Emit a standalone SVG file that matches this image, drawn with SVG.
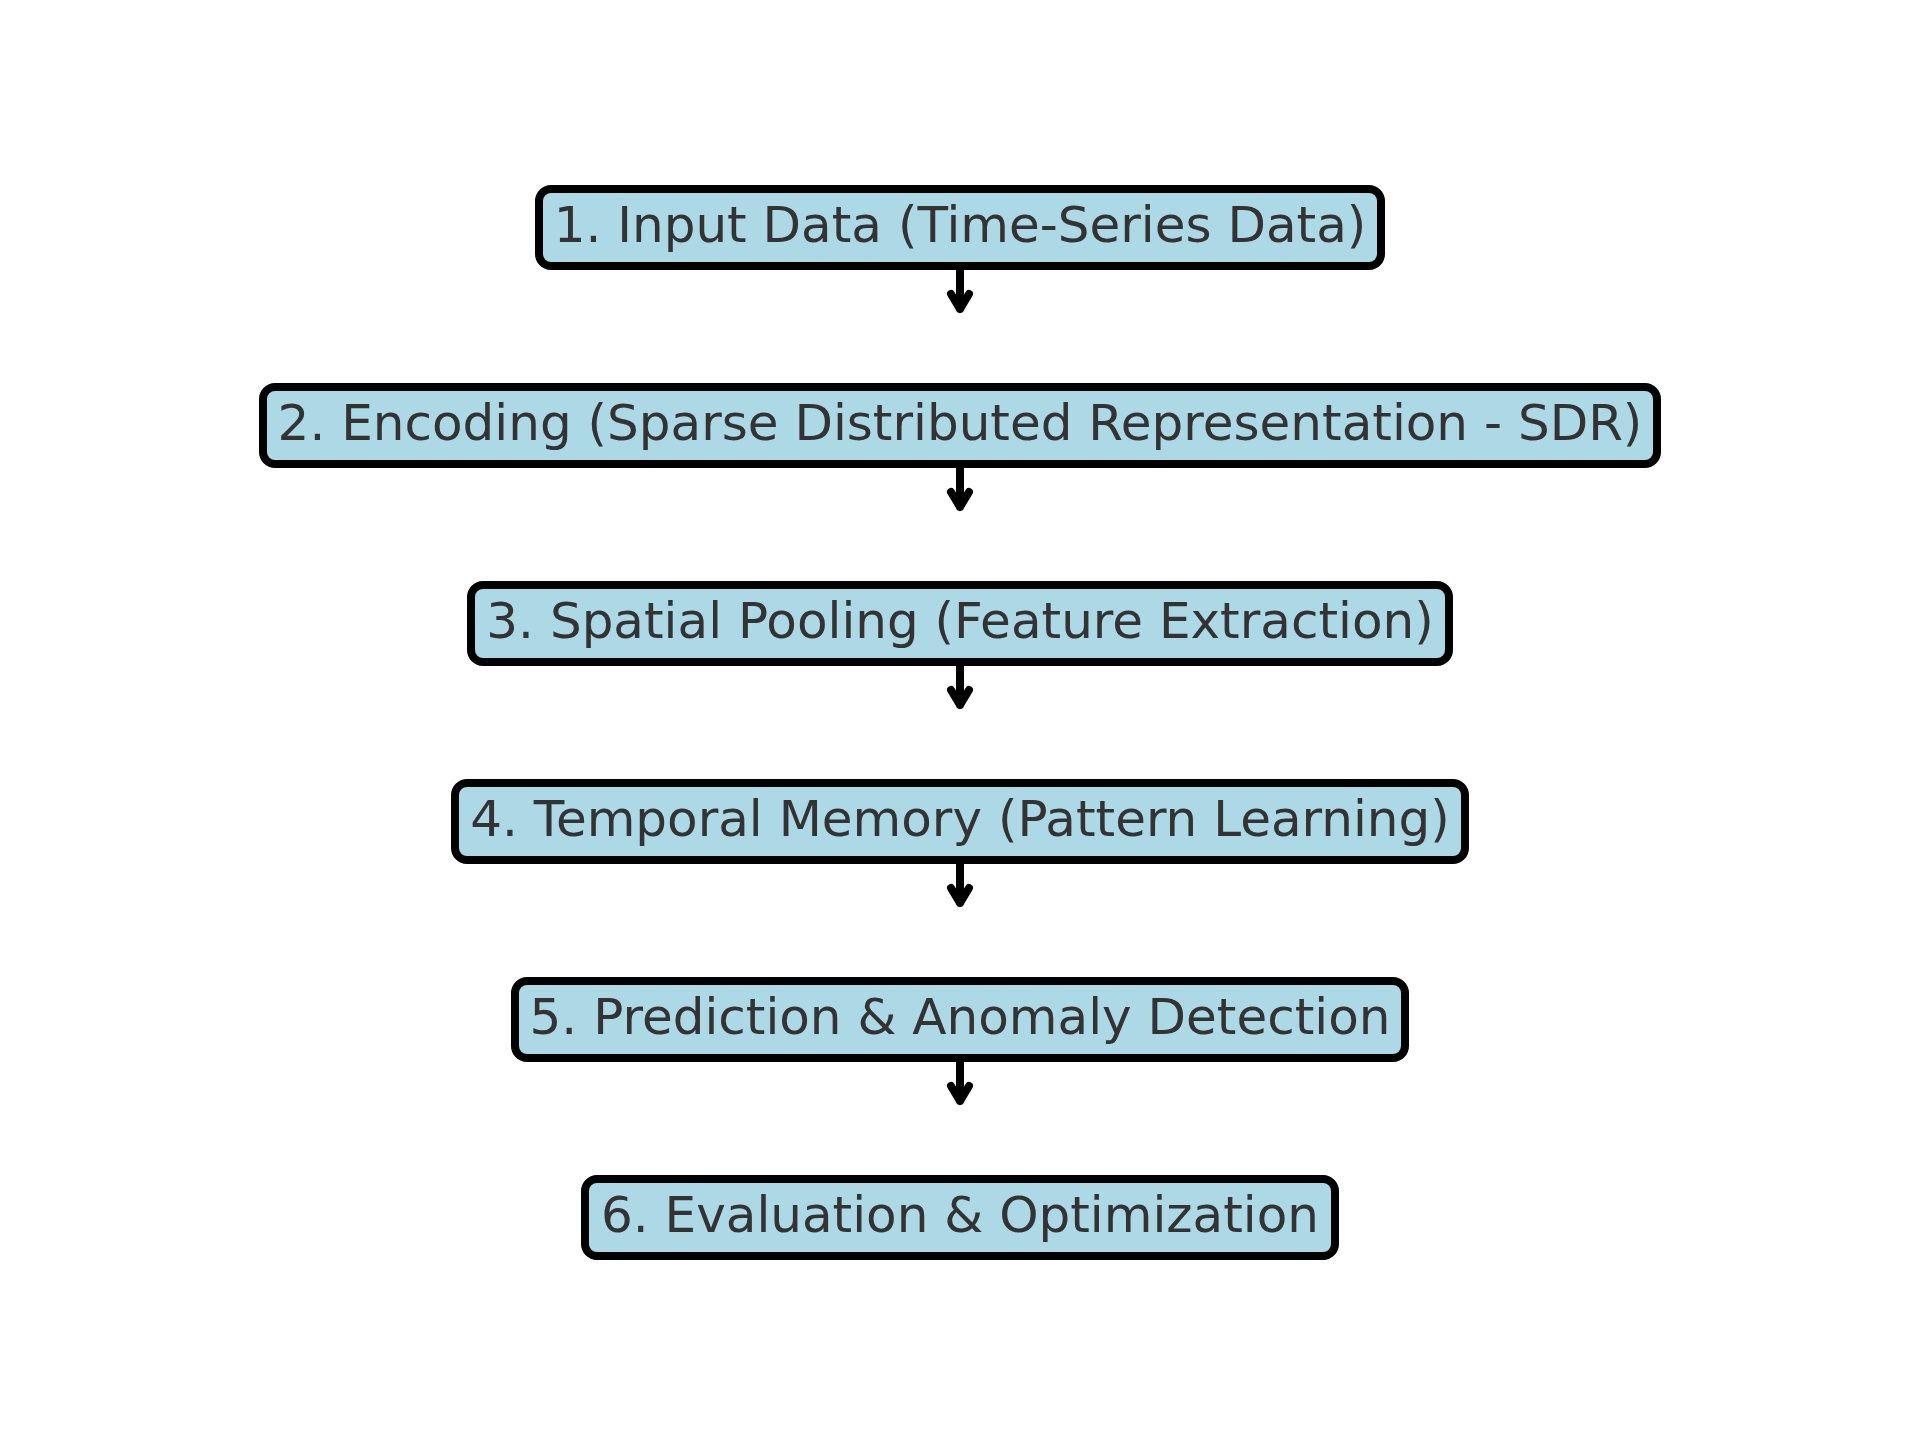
<svg xmlns="http://www.w3.org/2000/svg" width="1919" height="1446" viewBox="0 0 1919 1446">
<style>
.box{fill:#ADD8E6;stroke:#000;stroke-width:8}
.lbl{font-family:"DejaVu Sans",sans-serif;font-size:50px;fill:#333333;text-anchor:middle}
.arr{fill:none;stroke:#000;stroke-width:8;stroke-linecap:round;stroke-linejoin:round}
</style>
<rect width="1919" height="1446" fill="#fff"/>
<g id="connectors">
<path class="arr" d="M960 266V309M951 294L960 309L969 294"/>
<path class="arr" d="M960 464V507M951 492L960 507L969 492"/>
<path class="arr" d="M960 662V705M951 690L960 705L969 690"/>
<path class="arr" d="M960 860V903M951 888L960 903L969 888"/>
<path class="arr" d="M960 1058V1101M951 1086L960 1101L969 1086"/>
</g>
<g id="node1"><rect class="box" x="539" y="189" width="842" height="77" rx="12"/><text class="lbl" x="960" y="242">1. Input Data (Time-Series Data)</text></g>
<g id="node2"><rect class="box" x="263" y="387" width="1394" height="77" rx="12"/><text class="lbl" x="960" y="440">2. Encoding (Sparse Distributed Representation - SDR)</text></g>
<g id="node3"><rect class="box" x="471" y="585" width="978" height="77" rx="12"/><text class="lbl" x="960" y="638">3. Spatial Pooling (Feature Extraction)</text></g>
<g id="node4"><rect class="box" x="455" y="783" width="1010" height="77" rx="12"/><text class="lbl" x="960" y="836">4. Temporal Memory (Pattern Learning)</text></g>
<g id="node5"><rect class="box" x="515" y="981" width="890" height="77" rx="12"/><text class="lbl" x="960" y="1034">5. Prediction &amp; Anomaly Detection</text></g>
<g id="node6"><rect class="box" x="585" y="1179" width="750" height="77" rx="12"/><text class="lbl" x="960" y="1232">6. Evaluation &amp; Optimization</text></g>
</svg>
